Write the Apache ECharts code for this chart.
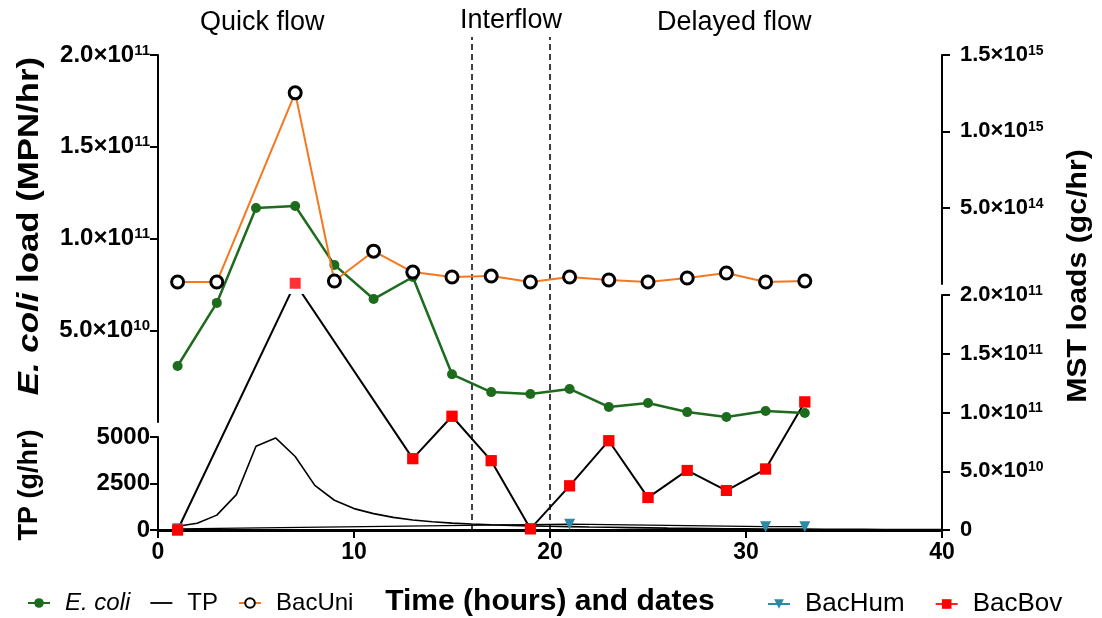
<!DOCTYPE html>
<html>
<head>
<meta charset="utf-8">
<script src="https://cdn.jsdelivr.net/npm/echarts@6/dist/echarts.min.js"></script>
<style>
html,body{margin:0;padding:0;background:#fff;}
#chart{width:1102px;height:618px;}
</style>
</head>
<body>
<div id="chart"></div>
<script>
// ---- Data ----
const ecoliHours = [1,3,5,7,9,11,13,15,17,19,21,23,25,27,29,31,33];
const ecoliLoad  = [3.05e10,6.49e10,1.166e11,1.177e11,8.56e10,6.7e10,7.9e10,2.6e10,1.63e10,1.53e10,1.8e10,8.2e9,1.04e10,5.4e9,2.7e9,6.0e9,4.9e9];

const tpHours = [1,2,3,4,5,6,7,8,9,10,11,12,13,14,15,16,17,18,19,20,21,22,23,24,25,26,27,28,29,30,31,32,33,34,35,36,37,38,39,40];
const tpLoad  = [200,360,800,1900,4500,4950,3950,2400,1600,1150,880,680,540,440,370,320,280,250,220,200,180,160,145,130,115,100,90,80,70,62,55,50,45,40,36,33,30,28,26,24];

const bacUniHours = [1,3,7,9,11,13,15,17,19,21,23,25,27,29,31,33];
const bacUniLoad  = [1.3e13,1.3e13,1.252e15,2.0e13,2.15e14,7.8e13,4.6e13,5.2e13,1.3e13,4.6e13,2.6e13,1.3e13,3.9e13,7.2e13,1.3e13,2.0e13];

const bacHumHours = [1,21,31,33];
const bacHumLoad  = [1e9,5e9,2.8e9,2.8e9];

const bacBovHours = [1,7,13,15,17,19,21,23,25,27,29,31,33];
const bacBovLoad  = [0,2.1e11,6.07e10,9.68e10,5.9e10,1e9,3.76e10,7.6e10,2.76e10,5.07e10,3.36e10,5.19e10,1.09e11];

const phaseBounds = [16, 20];
const phaseLabels = ['Quick flow', 'Interflow', 'Delayed flow'];

// ---- helpers ----
const pairs = (xs, ys) => xs.map((x, i) => [x, ys[i]]);
function sci(v) {
  if (v === 0) return '{m|0}';
  const e = Math.floor(Math.log10(v) + 1e-9);
  const m = v / Math.pow(10, e);
  return '{m|' + m.toFixed(1) + '×10}{e|' + e + '}';
}
const FONT = '"Liberation Sans", Arial, sans-serif';
function rich(size, sup) {
  return {
    m: {fontSize: size, fontWeight: 'bold', fontFamily: FONT, color: '#000'},
    e: {fontSize: sup, fontWeight: 'bold', fontFamily: FONT, color: '#000', verticalAlign: 'top'}
  };
}
const L = 158, W = 784;
const axLine = {show: true, onZero: false, lineStyle: {color: '#000', width: 2}};
const axTick = {show: true, inside: false, length: 8, lineStyle: {color: '#000', width: 2}};

function xAx(gi, show) {
  return {
    type: 'value', gridIndex: gi, min: 0, max: 40, interval: 10, show: show,
    axisLine: {show: true, onZero: false, lineStyle: {color: '#000', width: 2.8}},
    axisTick: {show: true, inside: false, length: 8, lineStyle: {color: '#000', width: 2}},
    splitLine: {show: false},
    axisLabel: {fontSize: 23, fontWeight: 'bold', fontFamily: FONT, color: '#000', margin: 11},
    name: show ? 'Time (hours) and dates' : '',
    nameLocation: 'middle', nameGap: 57,
    nameTextStyle: {fontSize: 30, fontWeight: 'bold', fontFamily: FONT, color: '#000'}
  };
}

const option = {
  animation: false,
  backgroundColor: '#fff',
  grid: [
    {left: L, width: W, top: 55, height: 367},   // E. coli
    {left: L, width: W, top: 437, height: 93},   // TP
    {left: L, width: W, top: 55, height: 229},   // MST upper
    {left: L, width: W, top: 295, height: 235},  // MST lower
    {left: L, width: W, top: 37, height: 493}    // phase lines
  ],
  xAxis: [xAx(0, false), xAx(1, true), xAx(2, false), xAx(3, false), xAx(4, false)],
  yAxis: [
    {type: 'value', gridIndex: 0, position: 'left', min: 0, max: 2e11, interval: 5e10,
     axisLine: axLine, axisTick: axTick, splitLine: {show: false},
     axisLabel: {showMinLabel: false, formatter: sci, rich: rich(24, 15), margin: 8}},
    {type: 'value', gridIndex: 1, position: 'left', min: 0, max: 5000, interval: 2500,
     axisLine: axLine, axisTick: axTick, splitLine: {show: false},
     axisLabel: {formatter: v => '{m|' + v + '}', rich: rich(24, 15), margin: 8}},
    {type: 'value', gridIndex: 2, position: 'right', min: 0, max: 1.5e15, interval: 5e14,
     axisLine: axLine, axisTick: axTick, splitLine: {show: false},
     axisLabel: {showMinLabel: false, formatter: sci, rich: rich(22, 14), margin: 18}},
    {type: 'value', gridIndex: 3, position: 'right', min: 0, max: 2e11, interval: 5e10,
     axisLine: axLine, axisTick: axTick, splitLine: {show: false},
     axisLabel: {formatter: sci, rich: rich(22, 14), margin: 18}},
    {type: 'value', gridIndex: 4, min: 0, max: 1, show: false}
  ],
  legend: [
    {
      left: 22, top: 586, itemGap: 20, itemWidth: 22, itemHeight: 12,
      data: ['E. coli', {name: 'TP', icon: 'path://M0,0 L24,0 L24,2 L0,2 Z'}, 'BacUni'],
      formatter: n => n === 'E. coli' ? '{i|E. coli}' : n,
      textStyle: {fontSize: 24, fontFamily: FONT, color: '#000', padding: [0, 0, 0, 10],
        rich: {i: {fontSize: 24, fontStyle: 'italic', fontFamily: FONT, color: '#000'}}}
    },
    {
      left: 762, top: 586, itemGap: 30, itemWidth: 22, itemHeight: 12,
      data: [
        {name: 'BacHum', lineStyle: {color: '#2b8aa6'}},
        {name: 'BacBov', lineStyle: {color: '#ff2020'}}
      ],
      textStyle: {fontSize: 26, fontFamily: FONT, color: '#000', padding: [0, 0, 0, 10]}
    }
  ],
  graphic: [
    {type: 'text', left: 200, top: 9, style: {text: phaseLabels[0], fontSize: 27, fontFamily: FONT, fill: '#000'}},
    {type: 'text', left: 460, top: 7, style: {text: phaseLabels[1], fontSize: 27, fontFamily: FONT, fill: '#000'}},
    {type: 'text', left: 657, top: 9, style: {text: phaseLabels[2], fontSize: 27, fontFamily: FONT, fill: '#000'}},
    {type: 'text', x: 30, y: 226, rotation: Math.PI / 2, scaleX: 1.2,
     style: {text: '{i|E. coli} load (MPN/hr)', align: 'center', verticalAlign: 'middle',
       fontSize: 29, fontWeight: 'bold', fontFamily: FONT, fill: '#000',
       rich: {i: {fontSize: 29, fontWeight: 'bold', fontStyle: 'italic', fontFamily: FONT, fill: '#000'}}}},
    {type: 'text', x: 30, y: 485, rotation: Math.PI / 2,
     style: {text: 'TP (g/hr)', align: 'center', verticalAlign: 'middle',
       fontSize: 27, fontWeight: 'bold', fontFamily: FONT, fill: '#000'}},
    {type: 'text', x: 1078, y: 276, rotation: Math.PI / 2, scaleX: 1.08,
     style: {text: 'MST loads (gc/hr)', align: 'center', verticalAlign: 'middle',
       fontSize: 28, fontWeight: 'bold', fontFamily: FONT, fill: '#000'}}
  ],
  series: [
    {
      name: 'phases', type: 'line', xAxisIndex: 4, yAxisIndex: 4, data: [], silent: true,
      markLine: {silent: true, symbol: 'none', label: {show: false},
        lineStyle: {color: '#000', type: [6, 4], width: 1.5},
        data: phaseBounds.map(b => ({xAxis: b}))}
    },
    {
      name: 'TP', type: 'line', xAxisIndex: 1, yAxisIndex: 1, data: pairs(tpHours, tpLoad),
      symbol: 'none', lineStyle: {color: '#000', width: 1.6}, itemStyle: {color: '#000'}, z: 3
    },
    {
      name: 'BacHum', type: 'line', xAxisIndex: 3, yAxisIndex: 3, data: pairs(bacHumHours, bacHumLoad),
      symbol: 'triangle', symbolRotate: 180, symbolSize: 11,
      lineStyle: {color: '#000', width: 1.3}, itemStyle: {color: '#2b8aa6'}, z: 4
    },
    {
      name: 'BacBov', type: 'line', xAxisIndex: 3, yAxisIndex: 3, data: pairs(bacBovHours, bacBovLoad),
      symbol: 'rect', symbolSize: 11, clip: true,
      lineStyle: {color: '#000', width: 2}, itemStyle: {color: '#ff0000'}, z: 4
    },
    {
      name: 'BacBov points', type: 'scatter', xAxisIndex: 3, yAxisIndex: 3, data: pairs(bacBovHours, bacBovLoad),
      symbol: 'rect', symbolSize: 11, clip: false, itemStyle: {color: '#ff0000'}, z: 5
    },
    {
      name: 'E. coli', type: 'line', xAxisIndex: 0, yAxisIndex: 0, data: pairs(ecoliHours, ecoliLoad),
      symbol: 'circle', symbolSize: 10,
      lineStyle: {color: '#1d6b1d', width: 2.5}, itemStyle: {color: '#1d6b1d'}, z: 6
    },
    {
      name: 'BacUni', type: 'line', xAxisIndex: 2, yAxisIndex: 2, data: pairs(bacUniHours, bacUniLoad),
      symbol: 'circle', symbolSize: 12, clip: false,
      lineStyle: {color: '#f5781e', width: 2}, itemStyle: {color: '#fff', borderColor: '#000', borderWidth: 3}, z: 7
    }
  ]
};
const chart = echarts.init(document.getElementById('chart'), null, {renderer: 'canvas'});
chart.setOption(option);
</script>
</body>
</html>
